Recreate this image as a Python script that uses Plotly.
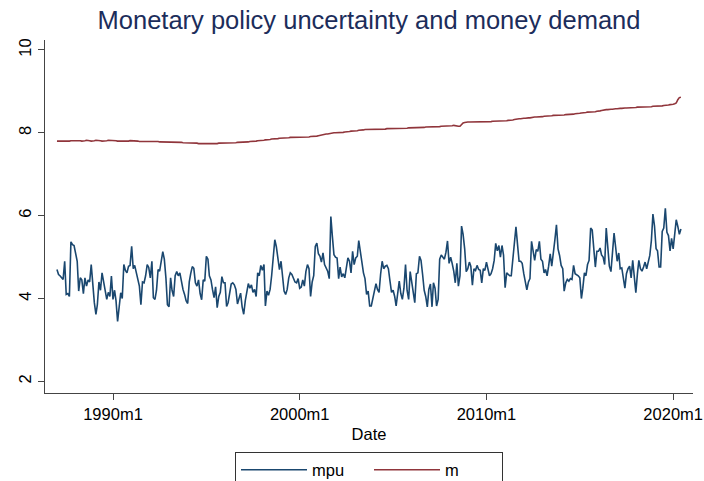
import plotly.graph_objects as go
import pandas as pd

start_month = "1987-01-01"

mpu = [
 4.70,4.58,4.55,4.50,4.46,4.90,4.10,4.12,4.05,5.37,5.30,5.28,
 5.05,4.90,4.18,4.50,4.45,4.12,4.50,4.30,4.45,4.40,4.82,4.30,
 3.90,3.62,3.85,4.40,4.20,4.62,4.40,4.25,3.98,4.15,4.05,4.54,
 3.98,4.20,3.95,3.45,3.85,4.14,4.00,4.82,4.68,4.62,4.78,4.80,
 5.26,4.72,4.80,4.65,4.45,4.30,3.85,4.40,4.38,4.55,4.82,4.75,
 4.50,4.90,4.02,3.98,4.20,4.70,4.66,4.86,5.13,4.95,4.50,3.85,
 3.80,4.50,4.20,4.05,4.55,4.65,4.55,4.62,4.40,4.22,4.10,3.95,
 3.88,4.40,4.60,4.77,4.73,4.38,4.30,4.45,4.12,3.97,4.45,4.42,
 5.02,4.95,4.55,4.45,4.22,4.02,4.28,3.78,4.05,4.15,4.53,4.38,
 4.38,3.81,3.90,4.12,4.35,4.38,4.33,4.22,3.87,4.00,4.13,3.80,
 3.62,3.95,4.18,4.36,4.25,4.33,4.15,4.22,4.05,4.62,4.55,4.80,
 4.68,4.82,3.82,4.18,4.08,4.22,4.55,4.98,5.42,5.25,4.98,4.70,
 4.90,4.42,4.18,4.10,4.22,4.50,4.62,4.58,4.50,4.40,4.38,4.48,
 4.25,4.28,4.45,4.30,4.65,4.82,4.72,4.05,4.40,4.55,5.26,5.34,
 5.08,5.02,4.88,5.10,4.82,4.72,4.66,4.48,5.98,5.50,5.06,5.00,
 4.98,4.48,4.76,4.52,4.60,4.50,4.70,4.98,4.90,4.62,5.14,4.82,
 4.98,5.02,5.40,5.12,4.88,4.62,4.48,4.10,4.18,3.82,3.82,4.00,
 4.25,4.36,4.22,4.15,4.58,4.90,4.72,4.78,4.80,4.72,4.42,4.15,
 4.20,4.05,3.82,4.20,4.42,4.12,3.98,4.25,4.82,4.20,3.98,4.65,
 4.38,4.20,3.90,4.60,4.62,5.02,4.92,4.58,4.20,4.05,3.80,4.22,
 4.35,3.80,4.38,4.25,3.82,3.98,4.95,5.05,5.00,4.95,5.12,5.39,
 4.85,5.00,4.85,4.66,4.38,4.85,4.30,4.55,5.75,5.55,5.20,4.65,
 4.72,4.88,4.78,4.32,4.72,4.68,4.80,4.70,4.68,4.38,4.72,4.68,
 4.88,4.70,4.55,4.60,4.72,4.92,5.33,5.15,5.28,5.00,5.28,5.05,
 4.26,4.62,4.58,4.55,4.55,5.02,5.40,5.73,5.30,4.90,4.90,4.85,
 4.60,4.38,4.21,4.40,4.48,5.38,5.15,4.92,5.18,5.14,5.38,4.95,
 4.90,4.62,4.70,4.55,4.78,5.08,4.78,5.20,5.42,5.78,5.20,5.04,
 4.80,4.72,4.18,4.38,4.46,4.42,4.48,4.46,4.80,4.60,4.58,4.55,
 4.50,4.00,4.25,4.62,4.55,4.82,4.92,5.70,5.65,5.12,4.76,5.14,
 5.14,5.22,5.05,5.00,4.82,5.70,5.30,4.78,4.65,5.14,5.58,5.25,
 4.90,5.10,4.72,4.74,4.50,4.25,4.60,4.72,4.78,4.50,4.92,4.52,
 4.14,4.60,4.92,4.72,4.66,4.76,4.88,4.72,4.88,5.04,5.40,6.04,
 5.75,5.20,5.15,4.76,4.76,5.62,5.70,6.18,5.60,5.52,5.15,5.45,
 5.20,5.52,5.90,5.74,5.55,5.68,
]

m = [
 7.80,7.80,7.80,7.80,7.79,7.79,7.80,7.80,7.80,7.81,7.81,7.81,
 7.82,7.82,7.81,7.81,7.80,7.80,7.81,7.82,7.82,7.81,7.80,7.80,
 7.81,7.82,7.82,7.81,7.81,7.80,7.80,7.81,7.81,7.82,7.82,7.81,
 7.81,7.81,7.81,7.80,7.80,7.79,7.79,7.80,7.80,7.80,7.80,7.81,
 7.81,7.80,7.80,7.80,7.80,7.79,7.79,7.79,7.80,7.80,7.79,7.79,
 7.79,7.79,7.80,7.80,7.79,7.79,7.78,7.78,7.78,7.78,7.78,7.78,
 7.78,7.78,7.77,7.77,7.77,7.77,7.77,7.77,7.77,7.76,7.76,7.76,
 7.76,7.76,7.76,7.75,7.75,7.75,7.75,7.74,7.74,7.74,7.74,7.74,
 7.73,7.73,7.73,7.74,7.74,7.74,7.74,7.74,7.75,7.75,7.75,7.75,
 7.75,7.75,7.76,7.76,7.76,7.76,7.76,7.76,7.77,7.77,7.77,7.77,
 7.77,7.78,7.78,7.78,7.79,7.79,7.79,7.80,7.80,7.81,7.81,7.81,
 7.82,7.82,7.83,7.83,7.84,7.84,7.85,7.85,7.86,7.86,7.86,7.87,
 7.87,7.87,7.88,7.88,7.88,7.88,7.89,7.89,7.89,7.89,7.89,7.90,
 7.90,7.90,7.90,7.90,7.90,7.90,7.90,7.91,7.91,7.91,7.92,7.92,
 7.93,7.94,7.95,7.96,7.96,7.97,7.97,7.98,7.99,7.99,8.00,8.00,
 8.00,8.00,8.01,8.01,8.01,8.02,8.02,8.02,8.03,8.04,8.04,8.05,
 8.05,8.05,8.06,8.06,8.07,8.07,8.08,8.08,8.08,8.08,8.08,8.08,
 8.08,8.09,8.09,8.09,8.09,8.09,8.09,8.09,8.10,8.10,8.10,8.10,
 8.10,8.10,8.10,8.10,8.11,8.11,8.11,8.11,8.11,8.11,8.12,8.12,
 8.12,8.12,8.12,8.12,8.13,8.13,8.13,8.13,8.13,8.14,8.14,8.14,
 8.14,8.14,8.14,8.15,8.15,8.15,8.15,8.16,8.16,8.16,8.17,8.17,
 8.17,8.17,8.17,8.18,8.17,8.17,8.16,8.16,8.20,8.24,8.25,8.26,
 8.26,8.26,8.26,8.26,8.26,8.26,8.26,8.26,8.26,8.27,8.27,8.27,
 8.27,8.27,8.27,8.27,8.28,8.28,8.28,8.28,8.28,8.29,8.29,8.29,
 8.29,8.29,8.30,8.30,8.30,8.31,8.32,8.33,8.34,8.34,8.34,8.35,
 8.35,8.35,8.36,8.36,8.36,8.37,8.37,8.38,8.38,8.38,8.39,8.39,
 8.39,8.40,8.40,8.40,8.41,8.41,8.41,8.42,8.42,8.42,8.42,8.43,
 8.43,8.43,8.43,8.44,8.44,8.44,8.45,8.45,8.45,8.46,8.46,8.46,
 8.47,8.48,8.48,8.49,8.49,8.50,8.50,8.50,8.51,8.51,8.51,8.52,
 8.52,8.53,8.54,8.55,8.55,8.56,8.56,8.57,8.57,8.57,8.58,8.58,
 8.58,8.59,8.59,8.59,8.60,8.60,8.60,8.60,8.61,8.61,8.61,8.61,
 8.61,8.62,8.62,8.62,8.62,8.62,8.62,8.63,8.63,8.63,8.63,8.64,
 8.64,8.64,8.64,8.65,8.65,8.65,8.66,8.66,8.67,8.67,8.68,8.68,
 8.69,8.70,8.72,8.80,8.85,8.86,
]

tick_vals = ["1990-01-01", "2000-01-01", "2010-01-01", "2020-01-01"]
tick_text = ["1990m1", "2000m1", "2010m1", "2020m1"]
y_ticks = [2, 4, 6, 8, 10]

dates = pd.date_range(start_month, periods=len(mpu), freq="MS")

FONT = "Liberation Sans, Arial, sans-serif"

fig = go.Figure()
fig.add_trace(go.Scatter(x=dates, y=mpu, mode="lines", name="mpu",
                         line=dict(color="#1a476f", width=1.6)))
fig.add_trace(go.Scatter(x=dates, y=m, mode="lines", name="m",
                         line=dict(color="#90353b", width=1.6)))

fig.update_layout(
    width=704, height=481,
    margin=dict(l=45, r=11, t=40, b=88, autoexpand=False),
    paper_bgcolor="white", plot_bgcolor="white",
    font=dict(family=FONT, size=16, color="#000000"),
    title=dict(text="Monetary policy uncertainty and money demand",
               x=0.5, xref="paper", xanchor="center",
               y=0.958, yref="container", yanchor="middle",
               font=dict(family=FONT, size=25.5, color="#1c2d5b")),
    showlegend=True,
    legend=dict(orientation="h", x=0.5, xanchor="center", xref="paper",
                y=-0.166, yanchor="top", yref="paper",
                bordercolor="#333333", borderwidth=1,
                font=dict(size=16.5), itemwidth=66, entrywidth=52),
    xaxis=dict(range=["1986-05-12", "2021-01-23"], tickvals=tick_vals,
               ticktext=tick_text, ticks="outside", ticklen=6,
               tickcolor="#444444", showline=True, linecolor="#444444",
               linewidth=1, showgrid=False, zeroline=False,
               ticklabeloverflow="allow", automargin=False,
               title=dict(text="Date", standoff=6, font=dict(size=16.5)),
               tickfont=dict(size=16.5)),
    yaxis=dict(range=[1.72, 10.24], tickvals=y_ticks, ticks="outside",
               ticklen=6, tickcolor="#444444", showline=True,
               linecolor="#444444", linewidth=1, showgrid=False,
               zeroline=False, tickangle=-90, automargin=False,
               ticklabelstandoff=0, tickfont=dict(size=16.5)),
)

fig.write_html("out.html", config={"displayModeBar": False},
               post_script="document.body.style.margin='0';document.body.style.padding='0';")
